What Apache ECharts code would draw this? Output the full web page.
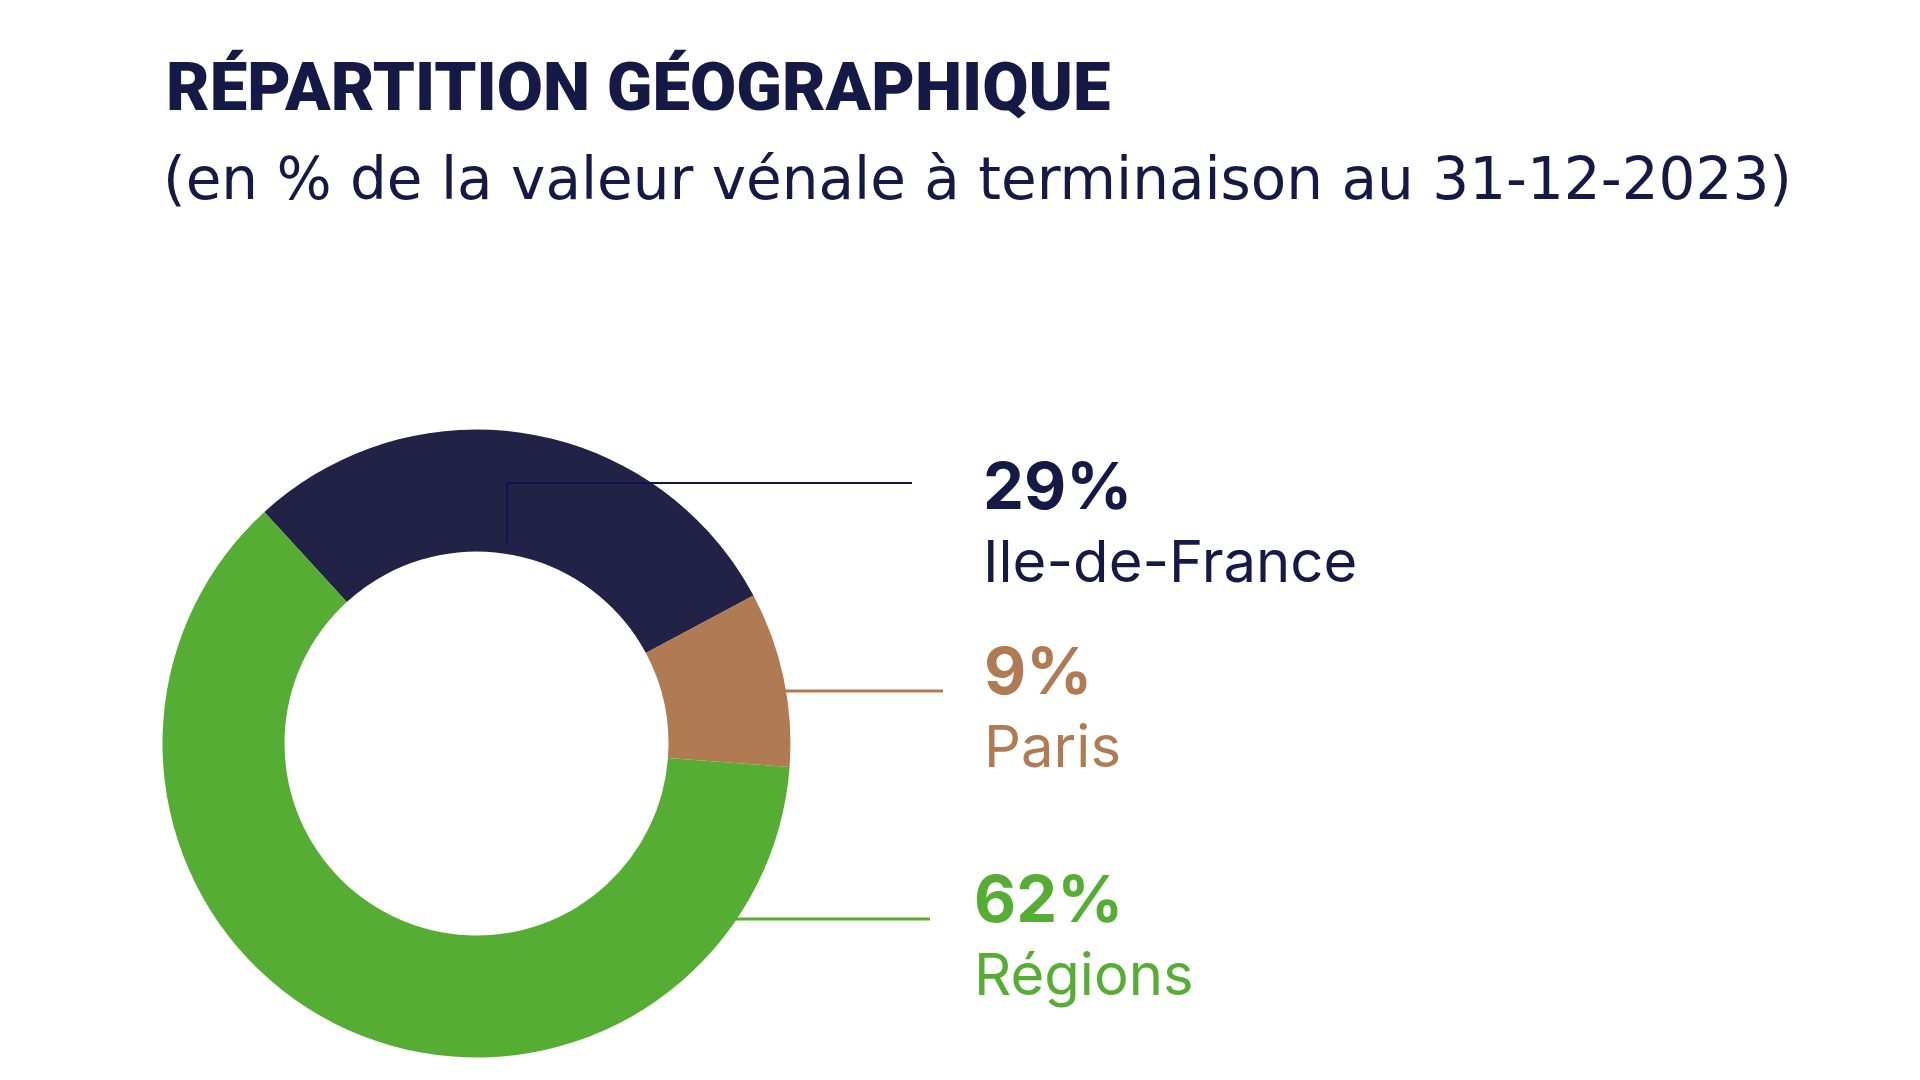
<!DOCTYPE html>
<html>
<head>
<meta charset="utf-8">
<script src="https://cdn.jsdelivr.net/npm/echarts@6/dist/echarts.min.js"></script>
<style>
html,body{margin:0;padding:0;background:#fff;}
#chart{width:1920px;height:1080px;}
</style>
</head>
<body>
<div id="chart"></div>
<script>
// ---- data ----
const categories = ['Ile-de-France', 'Paris', 'Régions'];
const shares = [29, 9, 62];
const sliceColors = ['#222146', '#b07a52', '#55ae33'];
const textColors = ['#141a45', '#b07a52', '#55ae33'];
const lineColors = ['#0e1450', '#b07a52', '#55ae33'];
const titleText = 'RÉPARTITION GÉOGRAPHIQUE';
const subtitleText = '(en % de la valeur vénale à terminaison au 31-12-2023)';

// ---- layout (pixels) ----
const pieCenter = [476.5, 743.5];
const pieRadius = [192, 314];
const pieStart = 132.5;
const labelPos = [[983, 451], [984, 636], [974, 864]];
const leaderLines = [
  [[507, 543], [507, 483], [912, 483]],
  [[785, 691], [860, 691], [943, 691]],
  [[735, 919], [830, 919], [930, 919]]
];
const lineWidths = [2, 3, 3];

const chart = echarts.init(document.getElementById('chart'), null, {renderer: 'canvas'});

const sliceData = categories.map((name, i) => ({
  name: name,
  value: shares[i],
  itemStyle: {color: sliceColors[i]}
}));

const labelData = categories.map((name, i) => ({
  name: name,
  value: shares[i],
  itemStyle: {color: 'rgba(0,0,0,0)'},
  labelLine: {lineStyle: {color: lineColors[i], width: lineWidths[i]}},
  label: {
    rich: {
      p: {fontFamily: 'Inter', fontWeight: 700, fontSize: 65, lineHeight: 76, color: textColors[i]},
      n: {fontFamily: 'Inter', fontWeight: 400, fontSize: 58, lineHeight: 76, color: textColors[i]}
    }
  }
}));

chart.setOption({
  animation: false,
  backgroundColor: '#ffffff',
  title: [
    {
      text: titleText,
      left: 161, top: 55,
      textStyle: {fontFamily: 'Roboto', fontWeight: 900, fontSize: 67, color: '#141a45'}
    },
    {
      text: subtitleText,
      left: 158, top: 150,
      textStyle: {fontFamily: 'DejaVu Sans', fontWeight: 400, fontSize: 58, color: '#141a45'}
    }
  ],
  series: [
    {
      type: 'pie',
      z: 2,
      center: pieCenter,
      radius: pieRadius,
      startAngle: pieStart,
      clockwise: true,
      silent: true,
      itemStyle: {borderWidth: 0},
      label: {show: false},
      labelLine: {show: false},
      emphasis: {disabled: true},
      data: sliceData
    },
    {
      type: 'pie',
      z: 5,
      center: pieCenter,
      radius: pieRadius,
      startAngle: pieStart,
      clockwise: true,
      silent: true,
      avoidLabelOverlap: false,
      itemStyle: {borderWidth: 0},
      label: {
        show: true,
        position: 'outside',
        formatter: '{p|{c}%}\n{n|{b}}'
      },
      labelLine: {show: true, showAbove: true, smooth: false},
      labelLayout: function (params) {
        const i = params.dataIndex;
        return {
          x: labelPos[i][0],
          y: labelPos[i][1],
          align: 'left',
          verticalAlign: 'top',
          labelLinePoints: leaderLines[i]
        };
      },
      emphasis: {disabled: true},
      data: labelData
    }
  ]
});
</script>
</body>
</html>
